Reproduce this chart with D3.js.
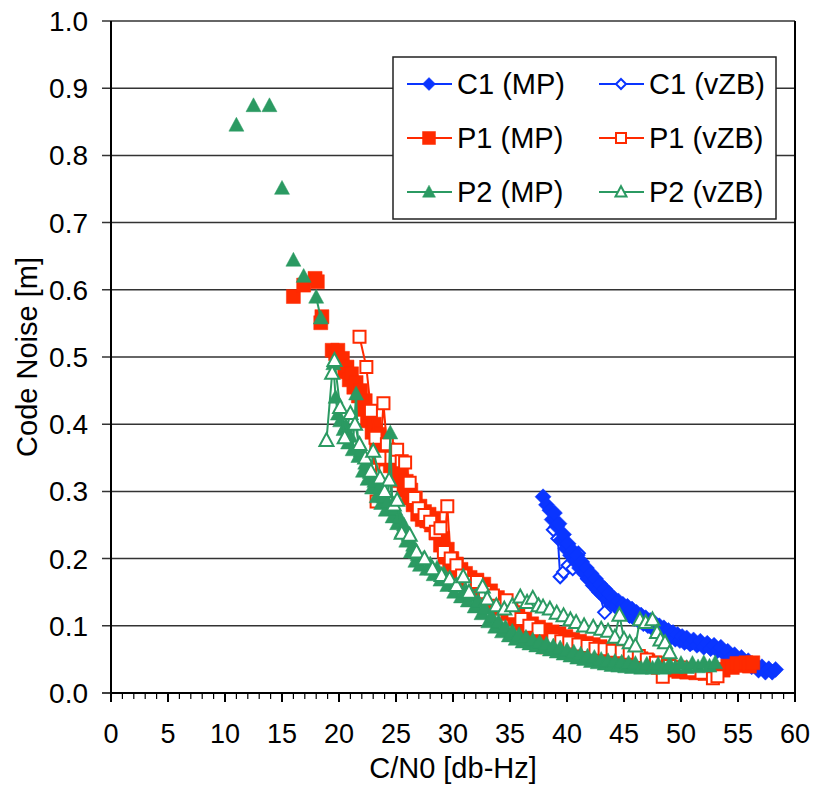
<!DOCTYPE html>
<html>
<head>
<meta charset="utf-8">
<script src="https://cdn.jsdelivr.net/npm/d3@7"></script>
<style>
  body { margin: 0; background: #fff; }
  text { font-family: "Liberation Sans", Arial, sans-serif; fill: #000; }
</style>
</head>
<body>
<div id="chart"></div>
<script>
// values as [C/N0 dB-Hz, code noise m]; [null, null] = gap in the line
const c1mp = [[37.9, 0.292], [38.2, 0.280], [38.5, 0.272], [38.7, 0.258], [38.9, 0.268], [39.1, 0.248], [39.3, 0.252], [39.5, 0.228], [39.7, 0.236], [39.9, 0.215],
	[40.1, 0.222], [40.3, 0.205], [40.5, 0.212], [40.7, 0.196], [40.9, 0.205], [41.1, 0.186], [41.3, 0.195], [41.5, 0.178], [41.7, 0.186], [41.9, 0.170],
	[42.1, 0.178], [42.3, 0.160], [42.5, 0.170], [42.7, 0.153], [42.9, 0.162], [43.1, 0.146], [43.3, 0.155], [43.5, 0.139], [43.7, 0.148], [43.9, 0.133],
	[44.1, 0.141], [44.3, 0.128], [44.5, 0.137], [44.7, 0.123], [44.9, 0.132], [45.1, 0.119], [45.3, 0.129], [45.5, 0.115], [45.7, 0.125], [45.9, 0.111],
	[46.1, 0.120], [46.3, 0.107], [46.5, 0.116], [46.7, 0.103], [46.9, 0.112], [47.1, 0.100], [47.3, 0.108], [47.5, 0.096], [47.7, 0.104], [47.9, 0.093],
	[48.1, 0.100], [48.3, 0.089], [48.5, 0.097], [48.7, 0.086], [48.9, 0.093], [49.1, 0.083], [49.3, 0.090], [49.5, 0.080], [49.7, 0.087], [49.9, 0.078],
	[50.1, 0.084], [50.3, 0.075], [50.5, 0.082], [50.8, 0.073], [51.1, 0.079], [51.4, 0.071], [51.7, 0.077], [52.0, 0.068], [52.3, 0.074], [52.6, 0.066],
	[52.9, 0.071], [53.2, 0.063], [53.5, 0.068], [53.8, 0.058], [54.1, 0.062], [54.4, 0.053], [54.7, 0.057], [55.0, 0.048], [55.3, 0.053], [55.6, 0.043],
	[55.9, 0.048], [56.2, 0.039], [56.5, 0.043], [56.8, 0.034], [57.1, 0.039], [57.4, 0.031], [57.7, 0.036], [58.0, 0.031], [58.3, 0.035]]

const c1vzb = [[38.8, 0.243], [39.2, 0.230], [39.4, 0.173], [39.7, 0.180], [40.1, 0.190], [40.5, 0.185], [41.0, 0.208], [41.3, 0.190], [41.8, 0.170], [42.3, 0.160],
	[42.8, 0.150], [43.3, 0.120], [44.0, 0.143], [44.4, 0.130], [44.9, 0.120], [45.4, 0.116], [45.9, 0.111], [46.5, 0.106], [47.0, 0.102], [47.5, 0.098],
	[48.0, 0.094], [48.5, 0.090], [49.0, 0.086], [49.5, 0.083], [50.0, 0.080], [50.5, 0.077], [51.0, 0.075], [51.5, 0.073], [52.0, 0.070]]

const p1mp = [[16.0, 0.590], [null, null], [16.9, 0.607], [null, null], [17.9, 0.617], [18.1, 0.612], [null, null], [18.4, 0.551], [18.5, 0.560], [null, null],
	[19.4, 0.510], [19.7, 0.505], [19.9, 0.510], [20.1, 0.492], [20.3, 0.498], [20.5, 0.478], [20.7, 0.485], [20.9, 0.466], [21.1, 0.475], [21.3, 0.455],
	[21.5, 0.462], [21.7, 0.442], [21.9, 0.450], [22.1, 0.422], [22.3, 0.435], [22.5, 0.405], [22.7, 0.418], [22.9, 0.388], [23.1, 0.400], [23.3, 0.372],
	[23.5, 0.385], [23.7, 0.360], [23.9, 0.372], [24.1, 0.348], [24.3, 0.362], [24.5, 0.338], [24.7, 0.350], [24.9, 0.330], [25.1, 0.342], [25.3, 0.316],
	[25.5, 0.328], [25.7, 0.302], [25.9, 0.315], [26.1, 0.290], [26.3, 0.302], [26.5, 0.280], [26.7, 0.290], [26.9, 0.266], [27.1, 0.278], [27.3, 0.258],
	[27.5, 0.270], [27.7, 0.256], [27.9, 0.266], [28.1, 0.250], [28.3, 0.260], [28.5, 0.238], [28.7, 0.246], [28.9, 0.220], [29.1, 0.230], [29.3, 0.202],
	[29.5, 0.214], [29.7, 0.192], [29.9, 0.200], [30.1, 0.182], [30.3, 0.192], [30.5, 0.174], [30.7, 0.184], [30.9, 0.168], [31.1, 0.178], [31.3, 0.163],
	[31.5, 0.172], [31.8, 0.160], [32.1, 0.168], [32.4, 0.155], [32.7, 0.162], [33.0, 0.146], [33.3, 0.152], [33.6, 0.135], [33.9, 0.142], [34.2, 0.126],
	[34.5, 0.134], [34.8, 0.118], [35.1, 0.126], [35.4, 0.110], [35.7, 0.118], [36.0, 0.103], [36.3, 0.110], [36.6, 0.096], [36.9, 0.103], [37.2, 0.091],
	[37.5, 0.098], [37.8, 0.087], [38.1, 0.094], [38.4, 0.084], [38.7, 0.091], [39.0, 0.081], [39.3, 0.088], [39.6, 0.078], [39.9, 0.084], [40.2, 0.074],
	[40.5, 0.080], [40.8, 0.071], [41.1, 0.077], [41.4, 0.068], [41.7, 0.074], [42.0, 0.066], [42.3, 0.072], [42.6, 0.063], [42.9, 0.069], [43.2, 0.060],
	[43.5, 0.066], [43.8, 0.058], [44.1, 0.063], [44.4, 0.055], [44.7, 0.060], [45.0, 0.052], [45.3, 0.057], [45.6, 0.049], [45.9, 0.054], [46.2, 0.046],
	[46.5, 0.051], [46.8, 0.043], [47.1, 0.048], [47.4, 0.041], [47.7, 0.045], [48.0, 0.038], [48.3, 0.042], [48.6, 0.036], [48.9, 0.040], [49.2, 0.034],
	[49.5, 0.038], [49.8, 0.032], [50.1, 0.036], [50.5, 0.031], [50.9, 0.035], [51.3, 0.030], [51.7, 0.034], [52.1, 0.029], [52.5, 0.034], [52.9, 0.030],
	[53.3, 0.035], [53.7, 0.034], [54.1, 0.040], [54.5, 0.038], [54.9, 0.044], [55.3, 0.041], [55.7, 0.045], [56.0, 0.040], [56.3, 0.045]]

const p1vzb = [[21.8, 0.530], [22.4, 0.485], [22.8, 0.420], [23.2, 0.380], [23.3, 0.285], [23.6, 0.350], [23.9, 0.431], [24.2, 0.370], [24.6, 0.350], [25.1, 0.362],
	[25.5, 0.345], [25.8, 0.343], [26.2, 0.313], [26.6, 0.290], [27.0, 0.275], [27.5, 0.265], [28.0, 0.255], [28.5, 0.240], [28.9, 0.245], [29.2, 0.210],
	[29.5, 0.278], [29.8, 0.200], [30.3, 0.190], [30.8, 0.175], [31.4, 0.165], [32.1, 0.165], [32.8, 0.150], [33.5, 0.145], [34.0, 0.130], [34.7, 0.138],
	[35.3, 0.120], [36.0, 0.110], [36.7, 0.100], [37.5, 0.095], [38.2, 0.068], [38.8, 0.080], [39.5, 0.077], [40.2, 0.075], [41.0, 0.072], [41.8, 0.070],
	[42.5, 0.066], [43.3, 0.065], [44.0, 0.063], [44.8, 0.062], [45.5, 0.060], [46.3, 0.055], [47.0, 0.050], [47.8, 0.045], [48.4, 0.024], [49.0, 0.040],
	[50.0, 0.038], [51.0, 0.034], [51.8, 0.030], [52.8, 0.022], [53.2, 0.025]]

const p2mp = [[11.0, 0.845], [null, null], [12.5, 0.874], [null, null], [13.9, 0.874], [null, null], [15.0, 0.751], [null, null], [16.0, 0.644], [null, null],
	[16.9, 0.620], [null, null], [18.0, 0.589], [18.4, 0.558], [null, null],
	[19.5, 0.490], [19.7, 0.440], [19.9, 0.415], [20.1, 0.405], [20.4, 0.392], [20.6, 0.398], [20.8, 0.372], [21.0, 0.382], [21.2, 0.362], [21.5, 0.445],
	[21.7, 0.352], [21.9, 0.360], [22.1, 0.330], [22.3, 0.342], [22.5, 0.318], [22.7, 0.328], [22.9, 0.305], [23.1, 0.315], [23.3, 0.292], [23.5, 0.305],
	[23.7, 0.282], [23.9, 0.292], [24.1, 0.272], [24.3, 0.284], [24.5, 0.387], [24.7, 0.262], [24.9, 0.274], [25.1, 0.252], [25.3, 0.262], [25.5, 0.240],
	[25.7, 0.250], [25.9, 0.226], [26.1, 0.236], [26.3, 0.210], [26.5, 0.220], [26.7, 0.196], [26.9, 0.206], [27.1, 0.190], [27.4, 0.200], [27.7, 0.184],
	[28.0, 0.192], [28.3, 0.176], [28.6, 0.186], [28.9, 0.168], [29.2, 0.178], [29.5, 0.160], [29.8, 0.168], [30.1, 0.150], [30.4, 0.160], [30.7, 0.143],
	[31.0, 0.152], [31.3, 0.137], [31.6, 0.146], [31.9, 0.128], [32.2, 0.137], [32.5, 0.118], [32.8, 0.126], [33.1, 0.106], [33.4, 0.114], [33.7, 0.098],
	[34.0, 0.106], [34.3, 0.091], [34.6, 0.098], [34.9, 0.085], [35.2, 0.092], [35.5, 0.080], [35.8, 0.087], [36.1, 0.076], [36.4, 0.083], [36.7, 0.073],
	[37.0, 0.079], [37.3, 0.070], [37.6, 0.076], [37.9, 0.067], [38.2, 0.073], [38.5, 0.064], [38.8, 0.070], [39.1, 0.061], [39.4, 0.067], [39.7, 0.058],
	[40.0, 0.064], [40.3, 0.055], [40.6, 0.061], [40.9, 0.052], [41.2, 0.058], [41.5, 0.050], [41.8, 0.055], [42.1, 0.047], [42.4, 0.053], [42.7, 0.045],
	[43.0, 0.050], [43.3, 0.043], [43.6, 0.048], [43.9, 0.041], [44.2, 0.047], [44.5, 0.040], [44.8, 0.046], [45.1, 0.039], [45.4, 0.045], [45.7, 0.038],
	[46.0, 0.044], [46.5, 0.037], [47.0, 0.043], [47.5, 0.037], [48.0, 0.043], [48.5, 0.037], [49.0, 0.043], [49.5, 0.038], [50.0, 0.044], [50.5, 0.038],
	[51.0, 0.044], [51.5, 0.039], [52.0, 0.045], [52.5, 0.040], [53.0, 0.045]]

const p2vzb = [[18.9, 0.376], [19.4, 0.476], [19.6, 0.495], [20.1, 0.425], [20.5, 0.380], [21.0, 0.416], [21.4, 0.400], [21.8, 0.370], [22.3, 0.350], [22.8, 0.330],
	[23.0, 0.360], [23.6, 0.320], [24.0, 0.300], [24.4, 0.317], [24.8, 0.280], [25.1, 0.287], [25.5, 0.238], [26.2, 0.235], [26.8, 0.210], [27.5, 0.200],
	[28.2, 0.185], [29.0, 0.175], [29.7, 0.170], [30.3, 0.160], [30.9, 0.173], [31.4, 0.150], [32.6, 0.158], [33.0, 0.140], [33.8, 0.130], [34.5, 0.125],
	[35.2, 0.130], [35.9, 0.143], [36.5, 0.135], [37.0, 0.141], [37.5, 0.130], [37.9, 0.128], [38.5, 0.125], [39.1, 0.119], [39.7, 0.115], [40.3, 0.109],
	[40.8, 0.105], [41.5, 0.100], [42.3, 0.098], [43.0, 0.095], [43.6, 0.092], [44.2, 0.083], [44.6, 0.116], [45.0, 0.080], [45.5, 0.075], [46.0, 0.070],
	[46.4, 0.109], [46.9, 0.105], [47.5, 0.109], [47.9, 0.090], [48.2, 0.079], [48.6, 0.075], [49.0, 0.060]]

const seriesNames = ["C1 (MP)", "C1 (vZB)", "P1 (MP)", "P1 (vZB)", "P2 (MP)", "P2 (vZB)"]
const xTicks = [0, 5, 10, 15, 20, 25, 30, 35, 40, 45, 50, 55, 60]
const yTicks = [0.0, 0.1, 0.2, 0.3, 0.4, 0.5, 0.6, 0.7, 0.8, 0.9, 1.0]

const blue = "#0a35ff", red = "#ff2a00", green = "#2b9a62"

// Excel-style markers: diamond = square turned 45°, triangle a bit taller than equilateral
function diamond(r) {
	return "M0," + (-r) + "L" + r + ",0L0," + r + "L" + (-r) + ",0Z"
}
function square(r) {
	return "M" + (-r) + "," + (-r) + "H" + r + "V" + r + "H" + (-r) + "Z"
}
function triangle(r) {
	return "M0," + (-r * 1.05) + "L" + r + "," + (r * 0.8) + "L" + (-r) + "," + (r * 0.8) + "Z"
}

// z: drawing order (open C1 diamonds sit mostly under the filled band)
const series = [
	{name: seriesNames[0], data: c1mp, color: blue, shape: diamond, r: 8, lr: 6.5, open: false, z: 1},
	{name: seriesNames[1], data: c1vzb, color: blue, shape: diamond, r: 6.5, lr: 5, open: true, z: 0},
	{name: seriesNames[2], data: p1mp, color: red, shape: square, r: 7, lr: 6.5, open: false, z: 2},
	{name: seriesNames[3], data: p1vzb, color: red, shape: square, r: 6, lr: 5, open: true, z: 3},
	{name: seriesNames[4], data: p2mp, color: green, shape: triangle, r: 7.5, lr: 6.5, open: false, z: 4},
	{name: seriesNames[5], data: p2vzb, color: green, shape: triangle, r: 7, lr: 5.5, open: true, z: 5}
]

const W = 814, H = 787
const plot = {left: 111, right: 795, top: 21, bottom: 693}

const svg = d3.select("#chart")
	.append("svg")
	.attr("width", W)
	.attr("height", H)

svg.append("rect").attr("width", W).attr("height", H).attr("fill", "#fff")

const x = d3.scaleLinear().domain([0, 60]).range([plot.left, plot.right])
const y = d3.scaleLinear().domain([0, 1]).range([plot.bottom, plot.top])

// horizontal grid + y ticks
svg.append("g")
	.selectAll("line")
	.data(yTicks.filter(d => d > 0))
	.enter()
	.append("line")
	.attr("x1", plot.left - 9)
	.attr("x2", plot.right)
	.attr("y1", d => y(d))
	.attr("y2", d => y(d))
	.attr("stroke", "#333")
	.attr("stroke-width", 1.5)

svg.append("line")
	.attr("x1", plot.left - 9).attr("x2", plot.left)
	.attr("y1", y(0)).attr("y2", y(0))
	.attr("stroke", "#000").attr("stroke-width", 1.5)

svg.append("g")
	.selectAll("text")
	.data(yTicks)
	.enter()
	.append("text")
	.attr("x", 88)
	.attr("y", d => y(d) + 10)
	.attr("text-anchor", "end")
	.style("font-size", "28px")
	.text(d => d.toFixed(1))

// x axis minor / major ticks
const minor = d3.range(0, 61)
svg.append("g")
	.selectAll("line")
	.data(minor)
	.enter()
	.append("line")
	.attr("x1", d => x(d))
	.attr("x2", d => x(d))
	.attr("y1", plot.bottom)
	.attr("y2", d => d % 5 === 0 ? plot.bottom + 9 : plot.bottom + 6)
	.attr("stroke", "#000")
	.attr("stroke-width", d => d % 5 === 0 ? 2 : 1.2)

svg.append("g")
	.selectAll("text")
	.data(xTicks)
	.enter()
	.append("text")
	.attr("x", d => x(d))
	.attr("y", 743)
	.attr("text-anchor", "middle")
	.style("font-size", "27px")
	.text(d => d)

// axes frame
svg.append("line")
	.attr("x1", plot.left).attr("x2", plot.left)
	.attr("y1", plot.top).attr("y2", plot.bottom)
	.attr("stroke", "#000").attr("stroke-width", 2)
svg.append("line")
	.attr("x1", plot.right).attr("x2", plot.right)
	.attr("y1", plot.top).attr("y2", plot.bottom + 9)
	.attr("stroke", "#000").attr("stroke-width", 2)
svg.append("line")
	.attr("x1", plot.left).attr("x2", plot.right)
	.attr("y1", plot.bottom).attr("y2", plot.bottom)
	.attr("stroke", "#000").attr("stroke-width", 2)

// axis titles
svg.append("text")
	.attr("x", 453)
	.attr("y", 778)
	.attr("text-anchor", "middle")
	.style("font-size", "29px")
	.text("C/N0 [db-Hz]")

svg.append("text")
	.attr("transform", "translate(37,357) rotate(-90)")
	.attr("text-anchor", "middle")
	.style("font-size", "29px")
	.text("Code Noise [m]")

// series
const line = d3.line()
	.defined(d => d[1] != null)
	.x(d => x(d[0]))
	.y(d => y(d[1]))

const clip = svg.append("clipPath").attr("id", "clip")
clip.append("rect")
	.attr("x", plot.left).attr("y", plot.top - 10)
	.attr("width", plot.right - plot.left).attr("height", plot.bottom - plot.top + 10)

series.slice().sort((a, b) => a.z - b.z).forEach(function(s) {
	const g = svg.append("g").attr("clip-path", "url(#clip)")
	g.append("path")
		.datum(s.data)
		.attr("d", line)
		.attr("fill", "none")
		.attr("stroke", s.color)
		.attr("stroke-width", 2)
	g.selectAll("path.mark")
		.data(s.data.filter(d => d[1] != null))
		.enter()
		.append("path")
		.attr("class", "mark")
		.attr("d", s.shape(s.r))
		.attr("transform", d => `translate(${x(d[0])},${y(d[1])})`)
		.attr("fill", s.open ? "#fff" : s.color)
		.attr("stroke", s.color)
		.attr("stroke-width", s.open ? 2 : 0.5)
})

// legend
const legend = svg.append("g")
legend.append("rect")
	.attr("x", 393).attr("y", 57)
	.attr("width", 383).attr("height", 162)
	.attr("fill", "#fff")
	.attr("stroke", "#222")
	.attr("stroke-width", 1.5)

series.forEach(function(s, i) {
	const col = i % 2, row = Math.floor(i / 2)
	const lx = col === 0 ? 407 : 599
	const ly = 84 + row * 54
	legend.append("line")
		.attr("x1", lx).attr("x2", lx + 45)
		.attr("y1", ly).attr("y2", ly)
		.attr("stroke", s.color).attr("stroke-width", 2)
	legend.append("path")
		.attr("d", s.shape(s.lr))
		.attr("transform", `translate(${lx + 22},${ly})`)
		.attr("fill", s.open ? "#fff" : s.color)
		.attr("stroke", s.color)
		.attr("stroke-width", s.open ? 2 : 0.5)
	legend.append("text")
		.attr("x", lx + 50)
		.attr("y", ly + 10)
		.style("font-size", "29px")
		.text(s.name)
})
</script>
</body>
</html>
